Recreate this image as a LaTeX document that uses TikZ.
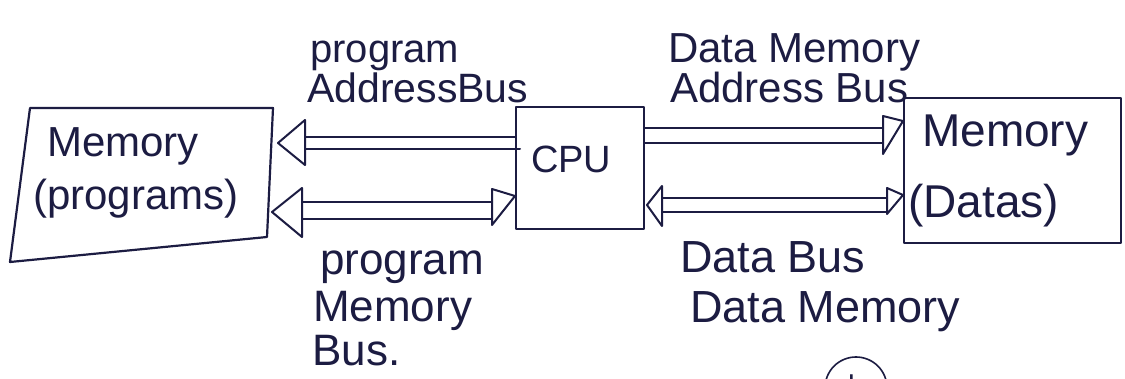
\documentclass[tikz,border=0pt]{standalone}
\usepackage{fontspec}
\setmainfont{Liberation Sans}
\definecolor{inkc}{RGB}{28,28,66}
\begin{document}
\begin{tikzpicture}[x=1pt,y=-1pt,
  ink/.style={draw=inkc, line width=2pt, line join=round, line cap=round},
  boxline/.style={draw=inkc, line width=2.2pt, line join=round},
  head/.style={draw=inkc, line width=2pt, line join=round},
  lbl/.style={anchor=base west, inner sep=0pt, text=inkc},
  fs/.style={font=\fontsize{#1}{#1}\selectfont}]
\useasboundingbox (0,0) rectangle (1125,379);
\fill[white] (0,0) rectangle (1125,379);

% ---------- program memory (skewed hand-drawn box) ----------
\coordinate (pmA) at (30,108);
\coordinate (pmB) at (273,108);
\coordinate (pmC) at (267,237);
\coordinate (pmD) at (10,262);
\draw[boxline] (pmA) -- (pmB) -- (pmC) -- (pmD) -- cycle;
\node[lbl, fs=42] (pmt1) at (47,157) {Memory};
\node[lbl, fs=42] (pmt2) at (33,210) {(programs)};

% ---------- CPU ----------
\node[boxline, anchor=north west, minimum width=128pt, minimum height=122pt,
      inner sep=0pt] (cpu) at (515,106) {};
\node[lbl, fs=38] (cput) at (531,173) {CPU};

% ---------- data memory ----------
\node[boxline, anchor=north west, minimum width=217pt, minimum height=145pt,
      inner sep=0pt] (dm) at (903,97) {};
\node[lbl, fs=46] (dmt1) at (922,147) {Memory};
\node[lbl, fs=46] (dmt2) at (908,218) {(Datas)};

% ---------- program address bus (CPU -> program memory) ----------
\coordinate (pabL1) at (305,137);
\coordinate (pabL2) at (305,149);
\draw[ink] (pabL1) -- (pabL1 -| cpu.west);
\draw[ink] (pabL2) -- ([xshift=5pt]pabL2 -| cpu.west);
\coordinate (pabtip) at (278,143);
\draw[head] (pabtip) -- (305,120) -- (305,165) -- cycle;

% ---------- program memory bus (bidirectional) ----------
\coordinate (pmbL1) at (302,202);
\coordinate (pmbL2) at (302,219);
\coordinate (pmbR1) at (492,202);
\coordinate (pmbR2) at (492,219);
\draw[ink] (pmbL1) -- (pmbR1);
\draw[ink] (pmbL2) -- (pmbR2);
\coordinate (pmbtipL) at (272,212);
\draw[head] (pmbtipL) -- (302,188) -- (302,237) -- cycle;
\coordinate (pmbtipR) at (pmbR1 -| cpu.west);
\draw[head] ([yshift=6pt]pmbtipR) -- (492,189) -- (492,225) -- cycle;

% ---------- data memory address bus (CPU -> data memory) ----------
\coordinate (dabR1) at (883,128);
\coordinate (dabR2) at (883,143);
\draw[ink] (dabR1 -| cpu.east) -- (dabR1);
\draw[ink] (dabR2 -| cpu.east) -- (dabR2);
\coordinate (dabtip) at (dabR1 -| dm.west);
\draw[head] ([yshift=7pt]dabtip) -- (883,116) -- (883,154) -- cycle;

% ---------- data bus (bidirectional) ----------
\coordinate (dbL1) at (662,198);
\coordinate (dbL2) at (662,212);
\coordinate (dbR1) at (887,198);
\coordinate (dbR2) at (887,212);
\draw[ink] (dbL1) -- (dbR1);
\draw[ink] (dbL2) -- (dbR2);
\coordinate (dbtipL) at (647,205);
\draw[head] (dbtipL) -- (662,186) -- (662,226) -- cycle;
\coordinate (dbtipR) at (dbR1 -| dm.west);
\draw[head] ([yshift=3pt]dbtipR) -- (887,188) -- (887,214) -- cycle;

% ---------- labels ----------
\node[lbl, fs=40] (l1a) at (310,63) {program};
\node[lbl, fs=41] (l1b) at (307,103) {AddressBus};

\node[lbl, fs=42] (l2a) at (668,63) {Data Memory};
\node[lbl, fs=42] (l2b) at (670,103) {Address Bus};

\node[lbl, fs=44] (l3a) at (320,275) {program};
\node[lbl, fs=44] (l3b) at (313,322) {Memory};
\node[lbl, fs=44] (l3c) at (312,366) {Bus.};

\node[lbl, fs=45] (l4a) at (680,273) {Data Bus};
\node[lbl, fs=45] (l4b) at (690,323) {Data Memory};

% ---------- cut-off marker at bottom ----------
\draw[draw=inkc, line width=1.6pt] (856,388) circle[radius=31pt];
\node[lbl, fs=30] (bmark) at (848,396) {b};
\end{tikzpicture}
\end{document}
